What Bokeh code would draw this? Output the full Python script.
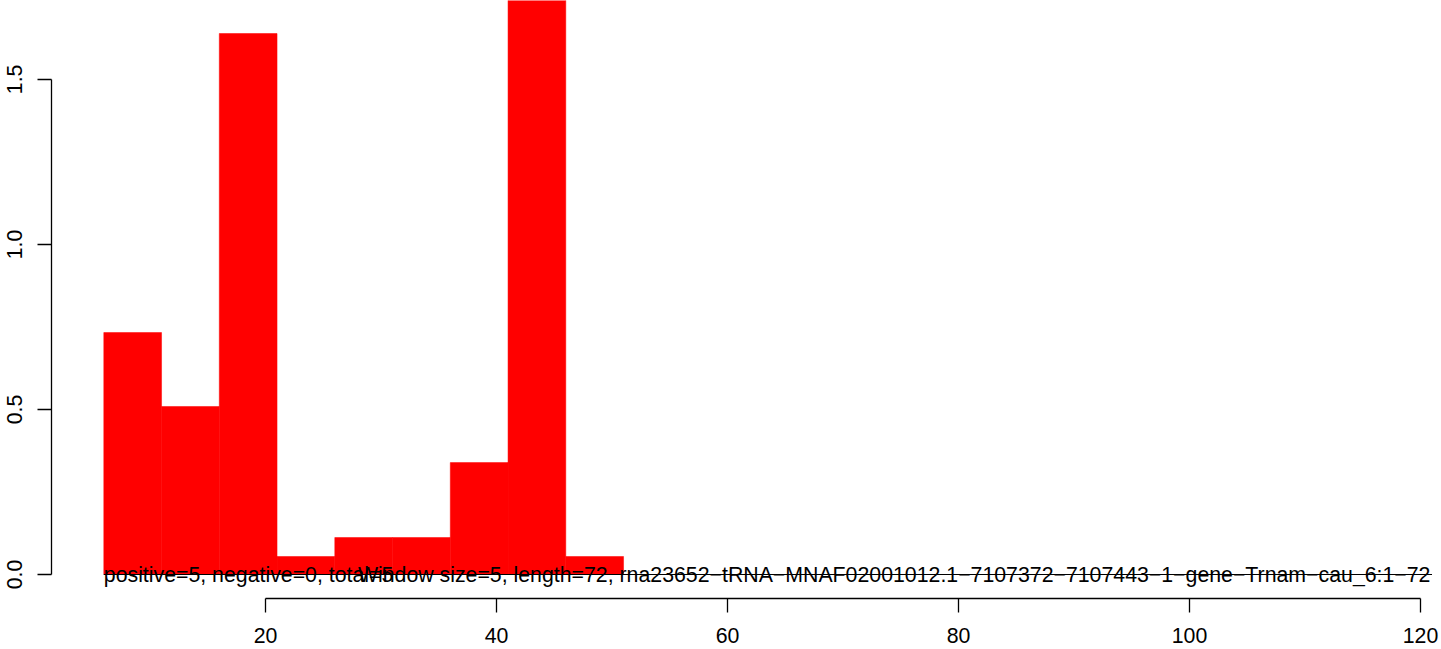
from bokeh.plotting import figure
from bokeh.models import Range1d, FixedTicker, LinearAxis, ColumnDataSource, NumeralTickFormatter
from bokeh.core.properties import value
from bokeh.embed import file_html
from bokeh.resources import INLINE

# data
bin_start = [6, 11, 16, 21, 26, 31, 36, 41, 46]
window = 5
scores = [0.733, 0.509, 1.639, 0.0545, 0.112, 0.112, 0.339, 1.85, 0.0545]
baseline_x = [6, 121]
baseline_y = [0, 0]
y_ticks = [0, 0.5, 1.0, 1.5]
x_ticks = [20, 40, 60, 80, 100, 120]
label_x = [6, 28]
label_y = [0, 0]
labels = ["positive=5, negative=0, total=5",
          "Window size=5, length=72, rna23652\u2212tRNA\u2212MNAF02001012.1\u22127107372\u22127107443\u22121\u2212gene\u2212Trnam\u2212cau_6:1\u221272"]

FONT = "Liberation Sans"
FS = "21.3px"

p = figure(width=1441, height=649, output_backend="svg", toolbar_location=None,
           x_range=Range1d(1.472, 121.82), y_range=Range1d(-0.0727, 1.739),
           x_axis_location=None, y_axis_location=None,
           min_border_left=51, min_border_right=0, min_border_top=0, min_border_bottom=51)
p.outline_line_color = None
p.xgrid.visible = False
p.ygrid.visible = False

src = ColumnDataSource(dict(left=bin_start, right=[b + window for b in bin_start],
                            top=scores, bottom=[0] * len(scores)))
p.quad(left="left", right="right", top="top", bottom="bottom", source=src,
       fill_color="#FF0000", line_color="#FF0000", line_width=0.5)
p.line(baseline_x, baseline_y, line_color="black", line_width=1)

p.text(x=label_x, y=label_y, text=labels, text_font=value(FONT), text_font_size=FS,
       text_align="left", text_baseline="alphabetic", text_color="black")

def style(ax):
    ax.major_tick_out = 14
    ax.major_tick_in = 0
    ax.minor_tick_line_color = None
    ax.axis_line_width = 1.3
    ax.major_tick_line_width = 1.3
    ax.major_label_text_font = FONT
    ax.major_label_text_font_size = FS
    ax.major_label_text_color = "black"

ya = LinearAxis(ticker=FixedTicker(ticks=y_ticks), bounds=(0, 1.5))
style(ya)
ya.major_label_orientation = "vertical"
ya.major_label_standoff = 15
ya.formatter = NumeralTickFormatter(format="0.0")
p.add_layout(ya, "left")

xa = LinearAxis(ticker=FixedTicker(ticks=x_ticks), bounds=(20, 120))
style(xa)
xa.major_label_standoff = 15
p.add_layout(xa, "below")

open("out.html", "w").write(file_html(p, INLINE))
